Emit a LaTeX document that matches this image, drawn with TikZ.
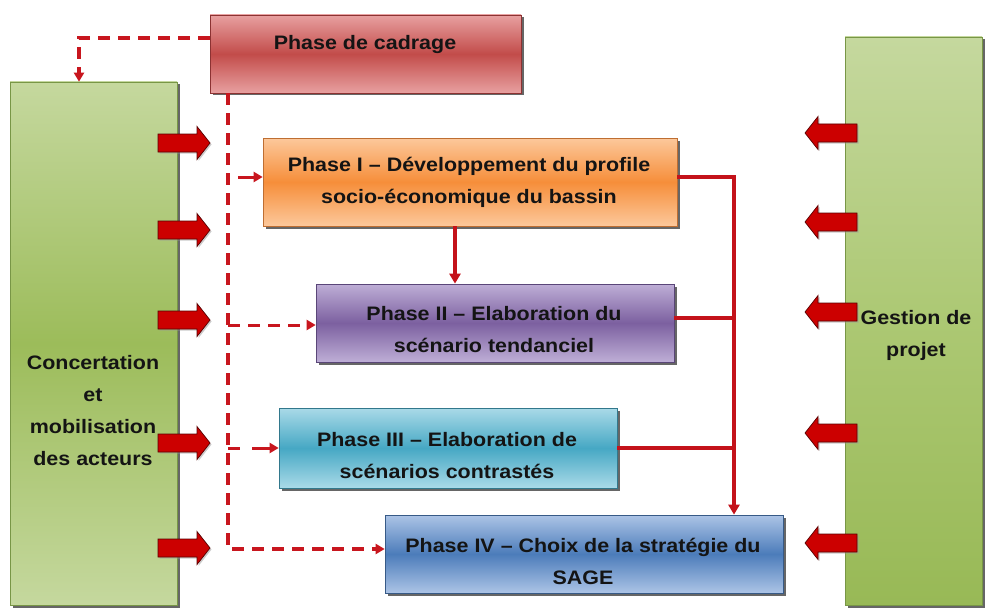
\documentclass[tikz,border=0pt]{standalone}
\usepackage{fontspec}
\setmainfont{Liberation Sans}[FakeStretch=1.1]
\usetikzlibrary{shadows,arrows.meta}
\definecolor{rline}{HTML}{C4121A}
\definecolor{rdash}{HTML}{C8161E}
\definecolor{txt}{HTML}{141414}
\definecolor{gLt}{RGB}{197,216,158}
\definecolor{gMd}{RGB}{156,188,90}
\definecolor{gMd2}{RGB}{172,200,115}
\definecolor{gDk}{RGB}{152,185,86}
\definecolor{gBd}{RGB}{120,150,70}
\definecolor{cLt}{RGB}{232,160,160}
\definecolor{cMd}{RGB}{194,76,74}
\definecolor{cBd}{RGB}{140,50,50}
\definecolor{oLt}{RGB}{252,200,155}
\definecolor{oMd}{RGB}{246,142,58}
\definecolor{oBd}{RGB}{190,110,50}
\definecolor{vLt}{RGB}{190,174,214}
\definecolor{vMd}{RGB}{124,96,160}
\definecolor{vBd}{RGB}{90,70,120}
\definecolor{tLt}{RGB}{170,218,232}
\definecolor{tMd}{RGB}{70,168,196}
\definecolor{tBd}{RGB}{50,120,140}
\definecolor{bLt}{RGB}{172,196,230}
\definecolor{bMd}{RGB}{76,124,186}
\definecolor{bBd}{RGB}{55,90,135}
\begin{document}
\begin{tikzpicture}[x=1pt,y=-1pt,
  every node/.style={inner sep=0pt},
  box/.style={draw=#1, line width=0.7pt,
    drop shadow={shadow xshift=2.5pt,shadow yshift=-2.5pt,fill=black!75,opacity=0.8}},
  lbl/.style={text=txt, align=center, font=\bfseries\fontsize{19.5}{32}\selectfont},
  conn/.style={draw=rline, line width=3.2pt},
  ctip/.style={-{Triangle[length=10pt,width=11pt]}},
  dconn/.style={draw=rdash, line width=3.8pt, dash pattern=on 12pt off 8pt},
  dtip/.style={-{Triangle[length=9pt,width=10pt]}},
  blk/.style={fill=red!80!black, draw=red!35!black, line width=0.7pt,
    drop shadow={shadow xshift=1.5pt,shadow yshift=-1.5pt,fill=black!40,opacity=0.5}},
  blockarrow/.pic={\path[blk] (-52,-9) -- (-13,-9) -- (-13,-16.5) -- (0,0) -- (-13,16.5) -- (-13,9) -- (-52,9) -- cycle;}
]
\path[fill=white, use as bounding box] (0,0) rectangle (989,610);

% side boxes
\node[box=gBd, top color=gLt, bottom color=gLt, middle color=gMd,
  minimum width=167pt, minimum height=523pt] (left) at (93.5,343.5) {};
\node[box=gBd, top color=gLt, bottom color=gDk, middle color=gMd2,
  minimum width=137pt, minimum height=568pt] (right) at (913.5,321) {};
\node[lbl] (lefttxt) at (93,411) {Concertation\\et\\mobilisation\\des acteurs};
\node[lbl] (righttxt) at (916,335) {Gestion de\\projet};

% phase boxes
\node[box=cBd, top color=cLt, bottom color=cLt, middle color=cMd,
  minimum width=311pt, minimum height=78pt] (cad) at (365.5,54) {};
\node[lbl] (cadtxt) at (365,45) {Phase de cadrage};

\node[box=oBd, top color=oLt, bottom color=oLt, middle color=oMd,
  minimum width=414pt, minimum height=88pt] (p1) at (470,182) {};
\node[lbl] (p1txt) at (469,182) {Phase I -- Développement du profile\\socio-économique du bassin};

\node[box=vBd, top color=vLt, bottom color=vLt, middle color=vMd,
  minimum width=358pt, minimum height=78pt] (p2) at (495,323) {};
\node[lbl] (p2txt) at (494,330) {Phase II -- Elaboration du\\scénario tendanciel};

\node[box=tBd, top color=tLt, bottom color=tLt, middle color=tMd,
  minimum width=338pt, minimum height=80pt] (p3) at (448,448) {};
\node[lbl] (p3txt) at (447,455.5) {Phase III -- Elaboration de\\scénarios contrastés};

\node[box=bBd, top color=bLt, bottom color=bLt, middle color=bMd,
  minimum width=398pt, minimum height=78pt] (p4) at (584,554) {};
\node[lbl] (p4txt) at (583,561) {Phase IV -- Choix de la stratégie du\\SAGE};

% solid connectors
\coordinate (j1) at (734,177);
\coordinate (j2) at (734,318);
\coordinate (j3) at (734,448);
\draw[conn,ctip] (p1.east |- j1) -- (j1) -- (j1 |- p4.north);
\draw[conn] (p2.east |- j2) -- (j2);
\draw[conn] (p3.east |- j3) -- (j3);
\coordinate (d12) at (455,0);
\draw[conn,ctip] (p1.south -| d12) -- (p2.north -| d12);

% dashed connectors
\coordinate (tc) at (79,38);
\draw[dconn,dtip] (cad.west |- tc) -- (tc) -- (tc |- left.north);
\coordinate (vb) at (228,549);
\draw[dconn,dtip] (cad.south -| vb) -- (vb) -- (p4.west |- vb);
\coordinate (b1) at (228,177);
\coordinate (b2) at (228,325);
\coordinate (b3) at (228,448);
\draw[dconn,dtip,line width=3pt,dash pattern=on 0pt off 10pt on 40pt off 0pt] (b1) -- (p1.west |- b1);
\draw[dconn,dtip,line width=3pt] (b2) -- (p2.west |- b2);
\draw[dconn,dtip,line width=3pt,dash pattern=on 12pt off 12pt on 40pt off 0pt] (b3) -- (p3.west |- b3);

% block arrows
\foreach \y/\n in {143/la1,230/la2,320/la3,443/la4,548/la5} {
  \pic (\n) at (210,\y) {blockarrow};
}
\foreach \y/\n in {133/ra1,222/ra2,312/ra3,433/ra4,543/ra5} {
  \pic[rotate=180] (\n) at (805,\y) {blockarrow};
}
\end{tikzpicture}
\end{document}
